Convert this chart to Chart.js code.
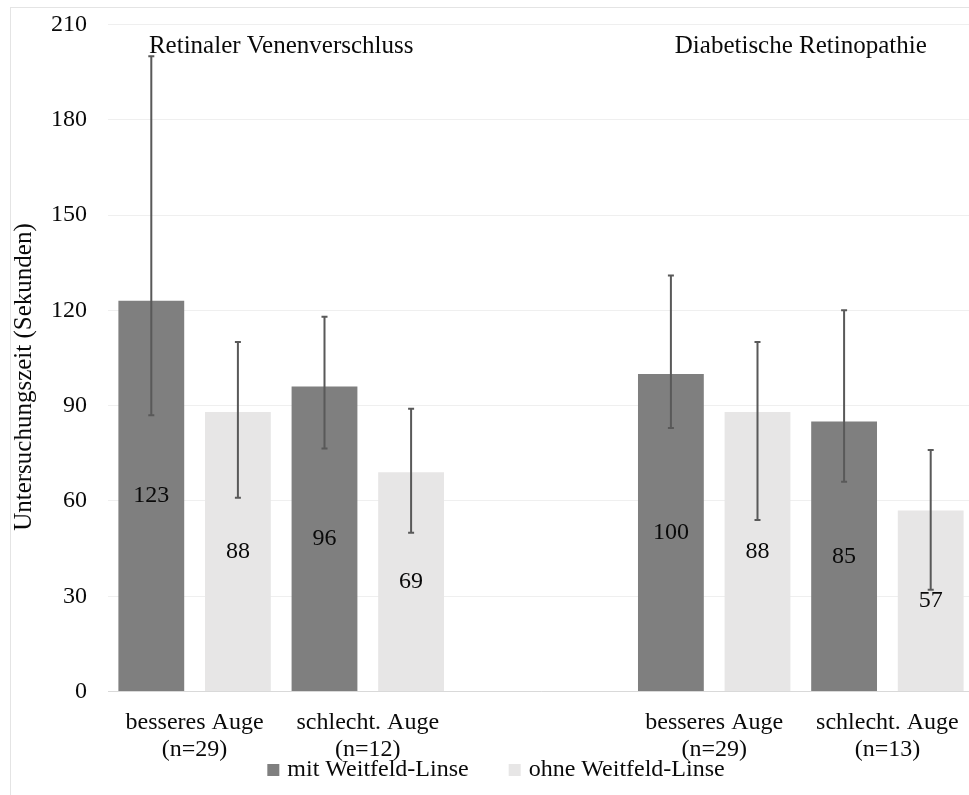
<!DOCTYPE html>
<html>
<head>
<meta charset="utf-8">
<script src="https://cdn.jsdelivr.net/npm/chart.js@4.4.0/dist/chart.umd.min.js"></script>
<style>
  html, body { margin: 0; padding: 0; background: #fff; overflow: hidden; width: 969px; height: 795px; }
  #frame { position: absolute; left: 10px; top: 7px; width: 990px; height: 820px; border: 1px solid #e4e4e4; }
  #wrap { position: absolute; left: 0; top: 0; width: 980px; height: 795px; }
</style>
</head>
<body>
<div id="frame"></div>
<div id="wrap"><canvas id="chart"></canvas></div>
<script>
// Examination time per eye group, with and without the wide-field lens
const categories = [
  ['besseres Auge', '(n=29)'],
  ['schlecht. Auge', '(n=12)'],
  '',
  ['besseres Auge', '(n=29)'],
  ['schlecht. Auge', '(n=13)']
];
const seriesNames = ['mit Weitfeld-Linse', 'ohne Weitfeld-Linse'];
const mitValues  = [123, 96, null, 100, 85];
const ohneValues = [88, 69, null, 88, 57];
const mitErrLow   = [87, 76.5, null, 83, 66];
const mitErrHigh  = [200, 118, null, 131, 120];
const ohneErrLow  = [61, 50, null, 54, 32];
const ohneErrHigh = [110, 89, null, 110, 76];
const yTickValues = [0, 30, 60, 90, 120, 150, 180, 210];
const groupTitles = ['Retinaler Venenverschluss', 'Diabetische Retinopathie'];
const groupTitleCategory = [0.5, 3.5];
const groupTitleValue = 203;
const yAxisTitle = 'Untersuchungszeit (Sekunden)';

const FONT = '"Liberation Serif", "Times New Roman", serif';
const TEXT = '#0a0a0a';

// error bars: whisker from low to high with small caps
const errorBars = {
  id: 'errorBars',
  afterDatasetsDraw(chart) {
    const ctx = chart.ctx;
    const y = chart.scales.y;
    const lows = [mitErrLow, ohneErrLow];
    const highs = [mitErrHigh, ohneErrHigh];
    ctx.save();
    ctx.strokeStyle = '#595959';
    ctx.lineWidth = 2;
    chart.data.datasets.forEach((ds, di) => {
      chart.getDatasetMeta(di).data.forEach((bar, i) => {
        if (lows[di][i] == null) return;
        const yl = y.getPixelForValue(lows[di][i]);
        const yh = y.getPixelForValue(highs[di][i]);
        ctx.beginPath();
        ctx.moveTo(bar.x, yl); ctx.lineTo(bar.x, yh);
        ctx.moveTo(bar.x - 3, yl); ctx.lineTo(bar.x + 3, yl);
        ctx.moveTo(bar.x - 3, yh); ctx.lineTo(bar.x + 3, yh);
        ctx.stroke();
      });
    });
    ctx.restore();
  }
};

// value labels centred inside each bar, group headings, y-axis title and legend
const barLabels = {
  id: 'barLabels',
  afterDraw(chart) {
    const ctx = chart.ctx;
    const xs = chart.scales.x, ys = chart.scales.y;
    ctx.save();
    ctx.font = '24px ' + FONT;
    ctx.fillStyle = TEXT;
    ctx.textAlign = 'center';
    ctx.textBaseline = 'middle';
    chart.data.datasets.forEach((ds, di) => {
      chart.getDatasetMeta(di).data.forEach((bar, i) => {
        const v = ds.data[i];
        if (v == null) return;
        ctx.fillText(String(v), bar.x, (bar.y + bar.base) / 2);
      });
    });

    // legend row under the category labels
    const items = chart.data.datasets.map(ds => ({ text: ds.label, color: ds.backgroundColor, w: ctx.measureText(ds.label).width }));
    const box = 12, gapText = 8, gapItem = 40;
    const total = items.reduce((s, it) => s + box + gapText + it.w, 0) + gapItem * (items.length - 1);
    let lx = 496 - total / 2;
    const ly = chart.height - 25;
    ctx.textAlign = 'left';
    items.forEach(it => {
      ctx.fillStyle = it.color;
      ctx.fillRect(lx, ly - box / 2, box, box);
      ctx.fillStyle = TEXT;
      ctx.fillText(it.text, lx + box + gapText, ly);
      lx += box + gapText + it.w + gapItem;
    });

    ctx.textAlign = 'center';
    ctx.font = '25px ' + FONT;
    groupTitles.forEach((t, k) => {
      ctx.fillText(t, xs.getPixelForValue(groupTitleCategory[k]), ys.getPixelForValue(groupTitleValue));
    });
    ctx.translate(24, ys.getPixelForValue(99));
    ctx.rotate(-Math.PI / 2);
    ctx.fillText(yAxisTitle, 0, 0);
    ctx.restore();
  }
};

new Chart(document.getElementById('chart'), {
  type: 'bar',
  data: {
    labels: categories,
    datasets: [
      { label: seriesNames[0], data: mitValues, backgroundColor: '#7f7f7f' },
      { label: seriesNames[1], data: ohneValues, backgroundColor: '#e7e6e6' }
    ]
  },
  options: {
    responsive: true,
    maintainAspectRatio: false,
    animation: false,
    layout: { padding: { top: 24.5, right: 6, bottom: 13.5, left: 0 } },
    datasets: { bar: { barPercentage: 0.76, categoryPercentage: 1.0 } },
    plugins: {
      legend: { display: false },
      tooltip: { enabled: false }
    },
    scales: {
      x: {
        grid: { display: false, drawTicks: false },
        border: { display: true, color: '#d9d9d9', width: 1 },
        ticks: { font: { family: FONT, size: 24, lineHeight: 1.125 }, color: TEXT, padding: 18, maxRotation: 0, autoSkip: false }
      },
      y: {
        min: 0, max: 210,
        afterBuildTicks(scale) { scale.ticks = yTickValues.map(v => ({ value: v })); },
        afterFit(scale) { scale.width = 108; scale.paddingTop = 0; scale.paddingBottom = 0; },
        grid: { color: '#efefef', drawTicks: false },
        border: { display: false },
        ticks: { font: { family: FONT, size: 24 }, color: TEXT, padding: 21 }
      }
    }
  },
  plugins: [errorBars, barLabels]
});
</script>
</body>
</html>
